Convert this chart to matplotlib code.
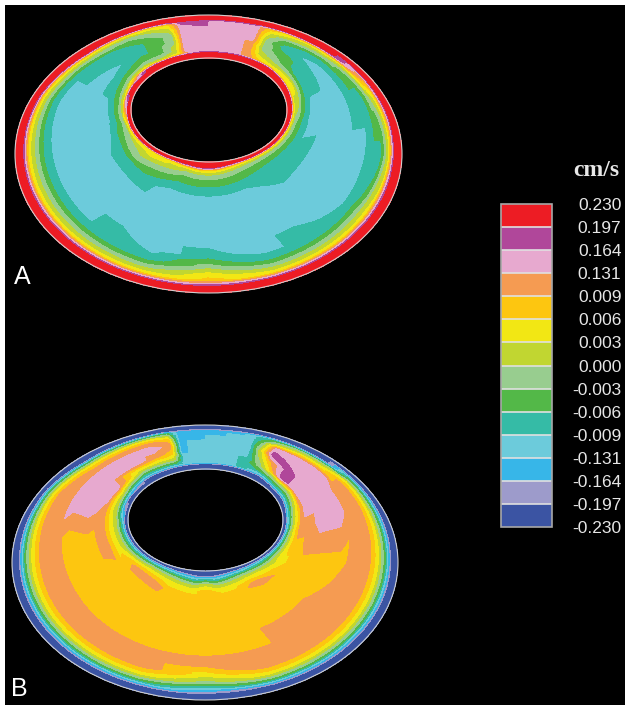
import numpy as np
import matplotlib
matplotlib.use("Agg")
import matplotlib.pyplot as plt
import matplotlib.cm as cm
from matplotlib.colors import ListedColormap, BoundaryNorm
from matplotlib.patches import Ellipse
from matplotlib.tri import Triangulation, UniformTriRefiner, LinearTriInterpolator

plt.rcParams['font.family'] = ['Liberation Sans', 'DejaVu Sans']

# colour scale (bottom -> top), cm/s
LEVELS = ["-0.230", "-0.197", "-0.164", "-0.131", "-0.009", "-0.006", "-0.003",
          "0.000", "0.003", "0.006", "0.009", "0.131", "0.164", "0.197", "0.230"]
COLORS = ['#3b54a3', '#9d9bcb', '#37b6e8', '#6ccbdb', '#35bba6', '#53b848', '#98cd8f',
          '#c1d631', '#f2e714', '#fdc610', '#f59b52', '#e7a9cf', '#b0479a', '#ed1c24']

# radial nodes across the gap: 0 = inner (hole) wall, 1 = outer wall
S_NODES = [0, .04, .07, .11, .16, .22, .3, .45, .6, .72, .8, .86, .91, .955, 1]

# per ray angle (deg, 90 = up) one hex digit per radial node,
# the digit is the colour-scale bin (0 = lowest bin ... d = highest bin)
ANGLES_A = [0, 20, 40, 55, 63, 69, 76, 85, 95, 102, 107, 115, 125, 140,
            160, 180, 200, 220, 240, 270, 300, 320, 340]
CODES_A = [
    "dd86544333447dd", "dd86543334468dd", "ddd886443468ddd", "dddd87654578ddd",
    "dddd98766789ddd", "ddddaaaabbbbddd", "ddddbbbbbbbbddd", "ddddbbbbbbbbddd",
    "ddddbbbbbbccddd", "ddddabbbbbbcddd", "dddd87766789ddd", "dddd76555678ddd",
    "dddd86544568ddd", "ddd865434468ddd", "dd86543333468dd", "dd88764333468dd",
    "dd87654333468dd", "dd86543334468dd", "dd86543333468dd", "dd86543334689dd",
    "dd86543333468dd", "dd86543334468dd", "dd86544333468dd",
]

ANGLES_B = [0, 20, 30, 40, 48, 58, 64, 69, 76, 85, 95, 102, 107, 115, 125, 140,
            155, 170, 185, 200, 220, 240, 270, 300, 320, 340]
CODES_B = [
    "003578999aa8500", "00368aabbaa8500", "003579bbbaa8500", "000357bbbb86000",
    "000357ccbb86000", "00003579cb75000", "000034567654000", "000044433333000",
    "000033333332000", "000033333322000", "000033333222000", "000033322222000",
    "00003579a975000", "0000357aba85000", "0000357bba85000", "000368bbba85000",
    "003578abbaa8500", "003578a99aa8500", "00368a999aa8500", "00368a999aa8500",
    "003689999aa8500", "003689999aa8500", "004799999a86300", "003689999aa8500",
    "00368999aaa8500", "00368a99aaa8500",
]

# geometry in pixels: ellipse (cx, cy, a, b), ray origin
OUTER_A, HOLE_A, ORIGIN_A = (208.5, 154, 193.5, 139), (209, 110, 78, 52), (208, 155)
OUTER_B, HOLE_B, ORIGIN_B = (205, 562.5, 193, 137.5), (205.5, 520, 77.5, 51), (205.5, 563)


def ray_hit(ell, origin, phi):
    ex, ey, a, b = ell
    ox, oy = origin
    u, v = np.cos(np.radians(phi)), -np.sin(np.radians(phi))
    dx, dy = ox - ex, oy - ey
    A = u**2 / a**2 + v**2 / b**2
    B = 2 * (dx * u / a**2 + dy * v / b**2)
    C = dx**2 / a**2 + dy**2 / b**2 - 1
    k = (-B + np.sqrt(B * B - 4 * A * C)) / (2 * A)
    return ox + k * u, oy + k * v


def draw_panel(ax, angles, codes, outer, hole, origin):
    phi = np.array(angles + [angles[0] + 360], float)
    z = np.array([[int(c, 16) for c in row] for row in codes + [codes[0]]], float) + 0.5
    s = np.array(S_NODES, float)
    P, S = np.meshgrid(phi, s, indexing='ij')
    n_p, n_s = P.shape
    tris = []
    for i in range(n_p - 1):
        for j in range(n_s - 1):
            a = i * n_s + j
            b = a + n_s
            tris += [[a, b, b + 1], [a, b + 1, a + 1]]
    tri = Triangulation(P.ravel(), S.ravel(), tris)
    zr = z.ravel()
    tri_f, z_f = UniformTriRefiner(tri).refine_field(
        zr, triinterpolator=LinearTriInterpolator(tri, zr), subdiv=3)
    xi, yi = ray_hit(hole, origin, tri_f.x)
    xo, yo = ray_hit(outer, origin, tri_f.x)
    x = xi + tri_f.y * (xo - xi)
    y = yi + tri_f.y * (yo - yi)
    ax.tricontourf(Triangulation(x, y, tri_f.triangles), z_f,
                   levels=np.arange(15), colors=COLORS)
    for ex, ey, ea, eb in (outer, hole):
        ax.add_patch(Ellipse((ex, ey), 2 * ea, 2 * eb, fill=False,
                             ec='#cfcfcf', lw=0.8))


fig = plt.figure(figsize=(6.25, 7.05), dpi=100, facecolor='white')
ax = fig.add_axes([5 / 625, 0, 620 / 625, 700 / 705])
ax.set_facecolor('black')
ax.set_xlim(5, 625)
ax.set_ylim(705, 5)
ax.set_axis_off()
ax.add_patch(plt.Rectangle((5, 5), 620, 700, color='black', zorder=-5))

draw_panel(ax, ANGLES_A, CODES_A, OUTER_A, HOLE_A, ORIGIN_A)
draw_panel(ax, ANGLES_B, CODES_B, OUTER_B, HOLE_B, ORIGIN_B)

ax.text(14, 284, 'A', color='white', fontsize=18, ha='left', va='baseline')
ax.text(11, 696, 'B', color='white', fontsize=18, ha='left', va='baseline')
ax.text(619, 171, 'cm/s', color='#e8e8e8', fontsize=17, fontweight='bold',
        family=['Liberation Serif', 'DejaVu Serif'], ha='right', va='center')

cax = fig.add_axes([500.5 / 625, 1 - 527 / 705, 51.5 / 625, 323 / 705])
sm = cm.ScalarMappable(norm=BoundaryNorm(np.arange(15), 14), cmap=ListedColormap(COLORS))
cb = fig.colorbar(sm, cax=cax, drawedges=True, ticks=np.arange(15))
cb.set_ticklabels(LEVELS)
cb.dividers.set_color('#e0e0e0')
cb.dividers.set_linewidth(1.2)
cb.outline.set_edgecolor('#a8a8a8')
cb.outline.set_linewidth(1.2)
cax.tick_params(length=0, pad=50, colors='#e6e6e6', labelsize=12.5)
for t in cax.get_yticklabels():
    t.set_ha('right')

fig.savefig('out.png', dpi=100, facecolor='white')
